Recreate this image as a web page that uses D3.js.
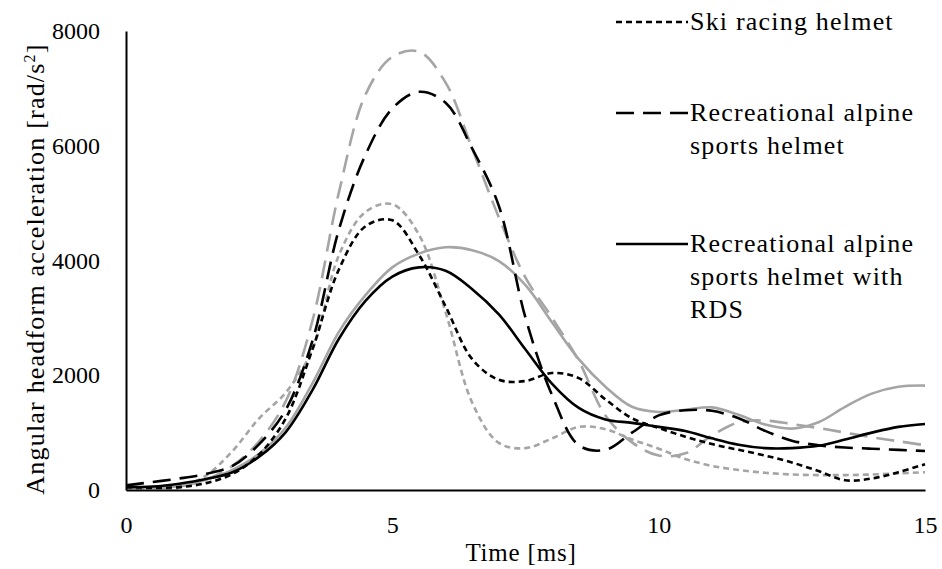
<!DOCTYPE html>
<html>
<head>
<meta charset="utf-8">
<script src="https://cdn.jsdelivr.net/npm/d3@7"></script>
<style>
  body { margin: 0; background: #fff; }
  text { font-family: "Liberation Serif", "DejaVu Serif", serif; fill: #000; }
</style>
</head>
<body>
<script>
// time samples [ms]
var times = [0, 0.5, 1, 1.5, 2, 2.5, 3, 3.5, 4, 4.5, 5, 5.5, 6, 6.5, 7, 7.5,
             8, 8.5, 9, 9.5, 10, 10.5, 11, 11.5, 12, 12.5, 13, 13.5, 14, 14.5, 15];

// angular acceleration [rad/s2]
var skiBlack = [50, 40, 50, 120, 280, 620, 1250, 2450, 3850, 4600, 4700, 4100, 3200, 2280, 1920, 1900,
                2040, 1950, 1580, 1250, 1080, 930, 800, 700, 600, 480, 330, 170, 200, 310, 450];
var skiGrey = [30, 20, 40, 250, 680, 1250, 1700, 2450, 4100, 4850, 4980, 4450, 3100, 1520, 820, 730,
               900, 1100, 1060, 880, 720, 540, 420, 350, 300, 270, 260, 260, 270, 290, 310];
var recBlack = [80, 140, 200, 280, 420, 800, 1400, 2600, 4550, 5850, 6650, 6940, 6750, 5950, 4950, 3000,
                1650, 780, 700, 1000, 1300, 1390, 1380, 1250, 1030, 860, 780, 740, 720, 700, 680];
var recGrey = [40, 30, 60, 180, 420, 850, 1550, 2950, 5200, 6900, 7550, 7640, 7100, 5950, 4750, 3700,
               3000, 2250, 1300, 830, 600, 640, 950, 1180, 1210, 1150, 1080, 1000, 920, 850, 780];
var rdsBlack = [50, 60, 110, 190, 310, 580, 1010, 1740, 2640, 3300, 3720, 3880, 3820, 3500, 3060, 2450,
                1850, 1430, 1230, 1170, 1100, 1030, 900, 790, 730, 730, 770, 880, 1000, 1100, 1150];
var rdsGrey = [60, 40, 70, 180, 350, 630, 1090, 1860, 2760, 3400, 3880, 4120, 4230, 4180, 3990, 3570,
               2920, 2280, 1800, 1450, 1360, 1400, 1440, 1310, 1140, 1070, 1180, 1450, 1680, 1800, 1820];

var yTicks = [0, 2000, 4000, 6000, 8000];
var xTicks = [0, 5, 10, 15];

var legendNames = [
    ["Ski racing helmet"],
    ["Recreational alpine", "sports helmet"],
    ["Recreational alpine", "sports helmet with", "RDS"]
];

var black = "#000", grey = "#a5a5a5";
var shortDash = "6,4", longDash = "18,9";

var series = [
    { values: skiGrey, color: grey, dash: shortDash },
    { values: recGrey, color: grey, dash: longDash },
    { values: rdsGrey, color: grey, dash: null },
    { values: skiBlack, color: black, dash: shortDash },
    { values: recBlack, color: black, dash: longDash },
    { values: rdsBlack, color: black, dash: null }
];

var width = 942, height = 569;

var x = d3.scaleLinear().domain([0, 15]).range([126, 925]);
var y = d3.scaleLinear().domain([0, 8000]).range([490, 31]);

var svg = d3.select("body").append("svg")
    .attr("width", width)
    .attr("height", height);

var line = d3.line()
    .x(function(d) { return x(d[0]); })
    .y(function(d) { return y(d[1]); })
    .curve(d3.curveCatmullRom.alpha(0.5));

// curves
svg.append("g").selectAll("path")
    .data(series)
    .enter()
    .append("path")
    .attr("d", function(s) {
        return line(times.map(function(t, i) { return [t, s.values[i]]; }));
    })
    .attr("fill", "none")
    .attr("stroke", function(s) { return s.color; })
    .attr("stroke-width", 2.6)
    .attr("stroke-dasharray", function(s) { return s.dash; });

// axes (no tick marks)
var yAxis = svg.append("g")
    .attr("transform", "translate(" + x(0) + ",0)")
    .call(d3.axisLeft(y).tickValues(yTicks).tickSize(0).tickPadding(26).tickFormat(d3.format("d")));
var xAxis = svg.append("g")
    .attr("transform", "translate(0," + y(0) + ")")
    .call(d3.axisBottom(x).tickValues(xTicks).tickSize(0).tickPadding(26).tickFormat(d3.format("d")));

[yAxis, xAxis].forEach(function(a) {
    a.select(".domain").attr("stroke", "#000").attr("stroke-width", 2);
    a.selectAll("text")
        .style("font-family", '"Liberation Serif", serif')
        .style("font-size", "24px");
});

svg.append("text")
    .attr("x", 521)
    .attr("y", 561)
    .attr("text-anchor", "middle")
    .style("font-size", "25px")
    .style("letter-spacing", "0.8px")
    .text("Time [ms]");

var yTitle = svg.append("text")
    .attr("transform", "translate(44,269) rotate(-90)")
    .attr("text-anchor", "middle")
    .style("font-size", "26px")
    .style("letter-spacing", "1.2px");
yTitle.append("tspan").text("Angular headform acceleration [rad/s");
yTitle.append("tspan").attr("dy", -9).style("font-size", "16px").text("2");
yTitle.append("tspan").attr("dy", 9).text("]");

// legend
var legendY = [22, 113, 244];
var legendStyles = [shortDash, longDash, null];
var leg = svg.append("g").selectAll("g")
    .data(legendNames)
    .enter()
    .append("g")
    .attr("transform", function(d, i) { return "translate(0," + legendY[i] + ")"; });

leg.append("line")
    .attr("x1", 616)
    .attr("x2", 688)
    .attr("stroke", black)
    .attr("stroke-width", 2.6)
    .attr("stroke-dasharray", function(d, i) { return legendStyles[i]; });

leg.selectAll("text")
    .data(function(d) { return d; })
    .enter()
    .append("text")
    .attr("x", 690)
    .attr("y", function(d, j) { return 8 + j * 33; })
    .style("font-size", "26px")
    .style("letter-spacing", "1.2px")
    .text(function(d) { return d; });
</script>
</body>
</html>
